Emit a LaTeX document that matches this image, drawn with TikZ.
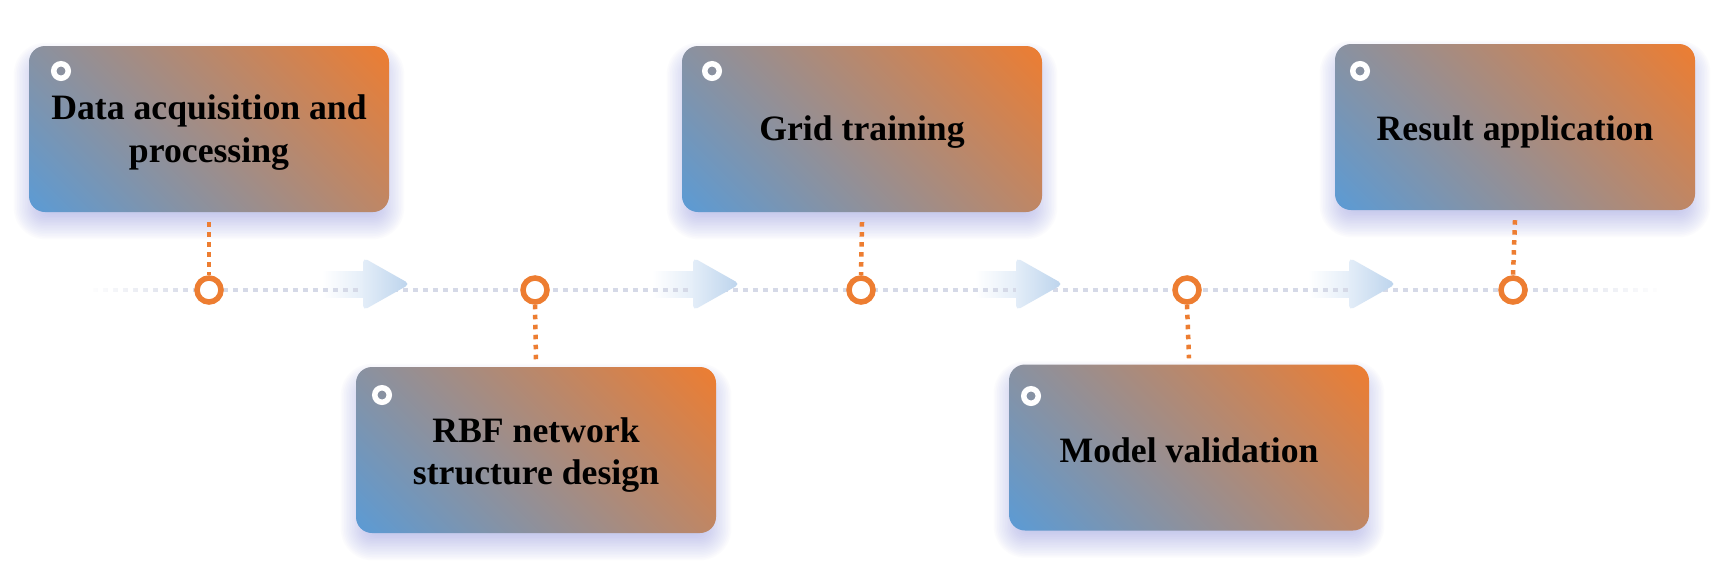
\documentclass[tikz,border=0pt]{standalone}
\usepackage{fontspec}
\setmainfont{Liberation Serif}
\usetikzlibrary{fadings}
\pgfdeclarelayer{front}
\pgfsetlayers{main,front}
\definecolor{boxblue}{HTML}{5B9BD5}
\definecolor{boxorange}{HTML}{ED7D31}
\definecolor{ringorange}{HTML}{ED7D31}
\definecolor{lineg}{HTML}{D5D9E7}
\definecolor{arrowblue}{HTML}{BBD3EC}
\definecolor{arrowlight}{HTML}{E3EDF8}
\definecolor{shadowc}{RGB}{130,137,217}
\tikzfading[name=fadeleftend, left color=transparent!0, right color=transparent!100]
\tikzfading[name=faderightend, left color=transparent!100, right color=transparent!0]
\newcommand{\boxshadow}[2]{%
  \foreach \k in {-5,...,12}{%
    \fill[shadowc, opacity=0.028, rounded corners={(12+max(0,1.6*\k))*1pt}]
      ({#1-176-1.6*\k},{#2-79+12-1.6*\k}) rectangle ({#1+176+1.6*\k},{#2+79+12+1.6*\k});
  }}
\begin{document}
\begin{tikzpicture}[x=1pt,y=-1pt,
  timeline/.style={draw=lineg, line width=4.5pt, dash pattern=on 5pt off 5pt},
  odots/.style={draw=ringorange, line width=4.5pt, dash pattern=on 4.5pt off 5.5pt},
  ring/.style={circle, draw=ringorange, line width=5.5pt, fill=white, minimum size=24pt, inner sep=0pt},
  dot/.style={circle, draw=white, line width=5.5pt, minimum size=14.5pt, inner sep=0pt},
  stepbox/.style={rectangle, rounded corners=16pt, minimum width=360pt, minimum height=166pt, inner sep=0pt,
    path picture={\shade[top color=boxorange, bottom color=boxblue, shading angle=-45]
      ([shift={(-186pt,-186pt)}]path picture bounding box.center) rectangle
      ([shift={(186pt,186pt)}]path picture bounding box.center);}},
  boxtext/.style={font=\fontsize{35.7}{42.8}\selectfont\bfseries, align=center, inner sep=0pt, text=black},
  arrowshaft/.style={left color=white, right color=arrowlight},
  arrowhead/.style={left color=arrowlight, right color=arrowblue, rounded corners=5pt}
]
\useasboundingbox[fill=white] (0,0) rectangle (1731,576);

% arrow shafts (under the dotted timeline)
\foreach \t in {410,740,1063,1396}{%
  \shade[arrowshaft] (\t-88,271) rectangle (\t-45,297);
}

% timeline
\coordinate (tlL) at (93,290);
\coordinate (tlR) at (1657,290);
\draw[timeline] (tlL) -- (tlR);
\fill[white, path fading=fadeleftend] (88,282) rectangle (198,298);
\fill[white, path fading=faderightend] (1528,282) rectangle (1662,298);

% arrow heads
\foreach \t in {410,740,1063,1396}{%
  \shade[arrowhead] (\t-47,257.5) -- (\t,284) -- (\t-47,310.5) -- cycle;
}

% shadows
\boxshadow{209}{129}
\boxshadow{536}{450}
\boxshadow{862}{129}
\boxshadow{1189}{447.5}
\boxshadow{1515}{127}

% boxes
\node[stepbox] (b1) at (209,129) {};
\node[stepbox] (b2) at (536,450) {};
\node[stepbox] (b3) at (862,129) {};
\node[stepbox] (b4) at (1189,447.5) {};
\node[stepbox] (b5) at (1515,127) {};

% timeline rings (front layer, above the connectors)
\begin{pgfonlayer}{front}
\node[ring] (c1) at (209,290) {};
\node[ring] (c2) at (535,290) {};
\node[ring] (c3) at (861,290) {};
\node[ring] (c4) at (1187,290) {};
\node[ring] (c5) at (1513,290) {};
\end{pgfonlayer}

% connectors
\draw[odots] ([yshift=-10pt]b1.south) -- (c1.north);
\draw[odots] (c2.south) -- ([yshift=6pt]b2.north);
\draw[odots] ([yshift=-10pt]b3.south) -- (c3.north);
\draw[odots] (c4.south) -- ([yshift=6pt]b4.north);
\draw[odots] ([yshift=-10pt]b5.south) -- (c5.north);

% small white rings
\node[dot] (d1) at (61,71) {};
\node[dot] (d2) at (382,395) {};
\node[dot] (d3) at (712,71) {};
\node[dot] (d4) at (1031,396) {};
\node[dot] (d5) at (1360,71) {};

% texts
\node[boxtext] (t1) at (209,132.2) {Data acquisition and\\processing};
\node[boxtext] (t2) at (536,455) {RBF network\\structure design};
\node[boxtext, anchor=base] (t3) at (862,140) {Grid training};
\node[boxtext, anchor=base] (t4) at (1189,462.3) {Model validation};
\node[boxtext, anchor=base] (t5) at (1515,140) {Result application};
\end{tikzpicture}
\end{document}
